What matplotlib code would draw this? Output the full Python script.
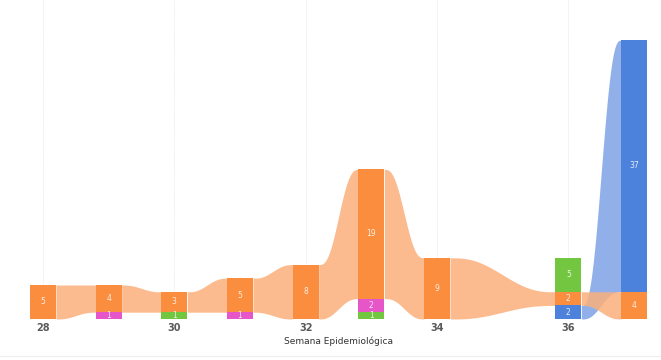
import numpy as np
import matplotlib
matplotlib.use("Agg")
import matplotlib.pyplot as plt

weeks = [28, 29, 30, 31, 32, 33, 34, 35, 36, 37]
naranja = [5, 4, 3, 5, 8, 19, 9, 0, 2, 4]
rosa = [0, 1, 0, 1, 0, 2, 0, 0, 0, 0]
verde = [0, 0, 1, 0, 0, 1, 0, 0, 5, 0]
azul = [0, 0, 0, 0, 0, 0, 0, 0, 2, 37]
tick_weeks = [28, 30, 32, 34, 36]

series = {
    "azul": (azul, "#4d82dc", "#7ea3e6"),
    "verde": (verde, "#72c640", "#9bd87a"),
    "rosa": (rosa, "#e656c8", "#ee8ad9"),
    "naranja": (naranja, "#fb8d3e", "#fbb07c"),
}
order = ["azul", "verde", "rosa", "naranja"]  # tie-break: first goes lower

hw = 0.198  # half bar width (weeks)

# stack per column: smallest at bottom
stacks = {}
for i, w in enumerate(weeks):
    vals = [(series[k][0][i], order.index(k), k) for k in order if series[k][0][i] > 0]
    vals.sort()
    base = 0
    for v, _, k in vals:
        stacks[(k, w)] = (base, base + v)
        base += v

fig = plt.figure(figsize=(6.61, 3.6), dpi=100)
ax = fig.add_axes([0, 41 / 360, 1, 319 / 360])
x0 = 28 - 43 / 65.67
ax.set_xlim(x0, x0 + 661 / 65.67)
ax.set_ylim(0, 319 / 6.8)
ax.axis("off")

for w in tick_weeks:
    ax.axvline(w, color="#e4e4e4", lw=0.6, ls=(0, (1, 1)), zorder=0)
    ax.text(w, -0.6, str(w), ha="center", va="top", fontsize=7,
            fontweight="bold", color="#5a5a5a")
ax.text(32.5, -2.5, "Semana Epidemiológica", ha="center", va="top",
        fontsize=6.5, color="#333333")


def smooth(t):
    return t * t * t * (t * (6 * t - 15) + 10)


# ribbons (only orange spans the empty week 35)
for k in order:
    vals, dark, light = series[k]
    present = [w for w in weeks if (k, w) in stacks]
    for a, b in zip(present[:-1], present[1:]):
        if k != "naranja" and b - a > 1:
            continue
        xa, xb = a + hw, b - hw
        xs = np.linspace(xa, xb, 80)
        t = smooth((xs - xa) / (xb - xa))
        lo = stacks[(k, a)][0] + (stacks[(k, b)][0] - stacks[(k, a)][0]) * t
        hi = stacks[(k, a)][1] + (stacks[(k, b)][1] - stacks[(k, a)][1]) * t
        ax.fill_between(xs, lo, hi, color=light, alpha=0.85, lw=0, zorder=2)

# bars
for (k, w), (lo, hi) in stacks.items():
    vals, dark, light = series[k]
    ax.bar(w, hi - lo, bottom=lo, width=2 * hw, color=dark, lw=0, zorder=3)
    ax.text(w, (lo + hi) / 2, str(hi - lo), ha="center", va="center",
            fontsize=5.5, color="white", alpha=0.85, zorder=4)

fig.add_artist(plt.Line2D([0, 1], [4 / 360, 4 / 360], color="#eeeeee", lw=0.8))
fig.savefig("out.png", dpi=100)
